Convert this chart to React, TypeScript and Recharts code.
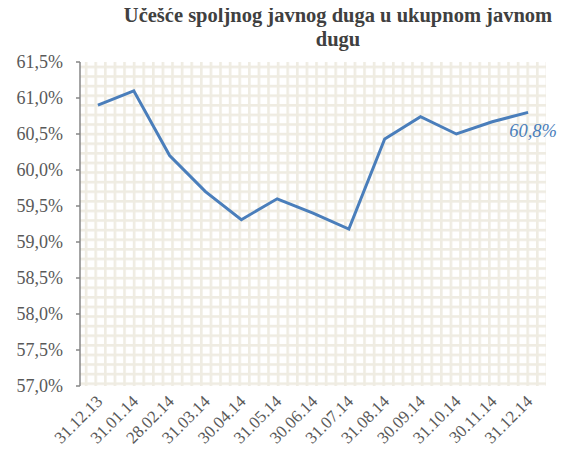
import { LineChart, Line, XAxis, YAxis, CartesianGrid, LabelList } from 'recharts'

const dates = [
  '31.12.13', '31.01.14', '28.02.14', '31.03.14', '30.04.14', '31.05.14', '30.06.14',
  '31.07.14', '31.08.14', '30.09.14', '31.10.14', '30.11.14', '31.12.14',
]
const shares = [60.9, 61.1, 60.2, 59.7, 59.31, 59.6, 59.4, 59.18, 60.43, 60.74, 60.5, 60.67, 60.8]
const yTicks = [57, 57.5, 58, 58.5, 59, 59.5, 60, 60.5, 61, 61.5]

// categories sit in the middle of each slot, tick marks go on the slot boundaries
const boundaryTicks = dates.map((_, i) => i).concat(dates.length)
const centerTicks = dates.map((_, i) => i + 0.5)

const data = dates.map((date, i) => ({ pos: i + 0.5, date, share: shares[i] }))

const serif = 'Liberation Serif'
const axisColor = '#868686'
const labelColor = '#595959'
const blue = '#4a7ebb'

const pct = (v: number) => v.toFixed(1).replace('.', ',') + '%'

function DateTick(props: any) {
  const { x, y, payload } = props
  const label = dates[Math.round(payload.value - 0.5)]
  const ax = x - 3
  const ay = y
  return (
    <text x={ax} y={ay} transform={`rotate(-45, ${ax}, ${ay})`} textAnchor="end"
      dominantBaseline="hanging" fill={labelColor} fontFamily={serif} fontSize={17}>
      {label}
    </text>
  )
}

function PctTick(props: any) {
  const { x, y, payload } = props
  return (
    <text x={x} y={y} dy={6} textAnchor="end" fill={labelColor} fontFamily={serif} fontSize={18}>
      {pct(payload.value)}
    </text>
  )
}

function EndLabel(props: any) {
  const { x, y, index } = props
  if (index !== data.length - 1) return null
  return (
    <text x={x + 5} y={y + 25} textAnchor="middle" fill={blue} fontFamily={serif}
      fontStyle="italic" fontSize={18.5}>
      {pct(shares[index])}
    </text>
  )
}

export default function App() {
  return (
    <div style={{ position: 'relative', width: 559, height: 456, fontFamily: serif }}>
      <div style={{
        position: 'absolute', left: 105, width: 450, top: -5, textAlign: 'center',
        fontWeight: 'bold', fontSize: 20.5, lineHeight: '24px', color: '#404040',
      }}>
        Učešće spoljnog javnog duga u ukupnom javnom dugu
      </div>
      <LineChart width={559} height={456} data={data}
        margin={{ top: 54, right: 21, bottom: 8, left: 0 }}>
        <defs>
          <pattern id="smallGrid" width="9.6" height="9.6" patternUnits="userSpaceOnUse">
            <rect width="9.6" height="9.6" fill="#ffffff" />
            <rect width="9.6" height="2.6" fill="#efece2" />
            <rect width="2.6" height="9.6" fill="#efece2" />
          </pattern>
        </defs>
        <CartesianGrid horizontal={false} vertical={false} fill="url(#smallGrid)" />
        <XAxis xAxisId="ticks" type="number" domain={[0, dates.length]} ticks={boundaryTicks}
          tick={false} height={0} tickSize={5}
          axisLine={{ stroke: axisColor, strokeWidth: 1.5 }} tickLine={{ stroke: axisColor, strokeWidth: 1.5 }} />
        <XAxis xAxisId="cat" dataKey="pos" type="number" domain={[0, dates.length]} ticks={centerTicks}
          interval={0} axisLine={false} tickLine={false} height={70} tick={<DateTick />} />
        <YAxis domain={[57, 61.5]} ticks={yTicks} width={72} tickSize={4} tickMargin={13}
          axisLine={{ stroke: axisColor, strokeWidth: 1.5 }} tickLine={{ stroke: axisColor, strokeWidth: 1.5 }}
          tick={<PctTick />} />
        <Line xAxisId="cat" dataKey="share" stroke={blue} strokeWidth={3} dot={false}
          isAnimationActive={false}>
          <LabelList dataKey="share" content={EndLabel} />
        </Line>
      </LineChart>
    </div>
  )
}
